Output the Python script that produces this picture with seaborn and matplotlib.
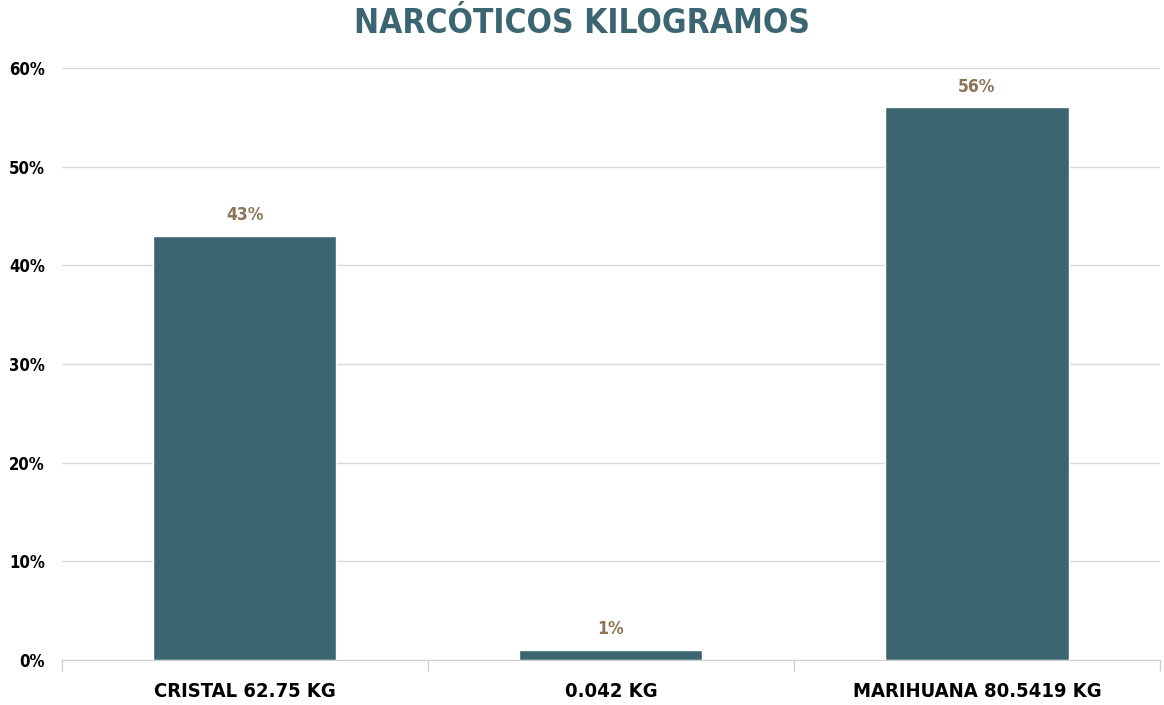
import matplotlib
matplotlib.use("Agg")
import matplotlib.pyplot as plt
import seaborn as sns
import pandas as pd
from matplotlib.ticker import FuncFormatter, FixedLocator

categories = ["CRISTAL 62.75 KG", "0.042 KG", "MARIHUANA 80.5419 KG"]
values = [0.43, 0.01, 0.56]
value_labels = ["43%", "1%", "56%"]
title = "NARCÓTICOS KILOGRAMOS"

sns.set_style("white")
plt.rcParams['font.family'] = ['DejaVu Sans']
plt.rcParams['font.stretch'] = 'condensed'

bar_color = "#3b6570"
label_color = "#8c7456"

df = pd.DataFrame({"cat": categories, "val": values})
fig = plt.figure(figsize=(11.64, 7.05), dpi=100)
ax = fig.add_axes([0.053, 0.0638, 0.9436, 0.8397])
sns.barplot(data=df, x="cat", y="val", color=bar_color, width=0.5, saturation=1, ax=ax)

ax.set_ylim(0, 0.6)
ax.set_xlim(-0.5, 2.5)
ax.set_yticks([0, 0.1, 0.2, 0.3, 0.4, 0.5, 0.6])
ax.yaxis.set_major_formatter(FuncFormatter(lambda v, p: f"{round(v*100)}%"))
ax.grid(axis="y", color="#d9d9d9", linewidth=1)
ax.set_axisbelow(True)
for s in ["top", "right", "left"]:
    ax.spines[s].set_visible(False)
ax.spines["bottom"].set_color("#d0d0d0")
ax.set_xlabel("")
ax.set_ylabel("")
ax.tick_params(axis="y", length=0, labelsize=12, pad=12, labelcolor="black")
ax.tick_params(axis="x", length=0, labelsize=14.5, pad=16, labelcolor="black")
for t in ax.get_yticklabels() + ax.get_xticklabels():
    t.set_fontweight("bold")
    t.set_fontstretch("condensed")
# minor ticks at category boundaries
ax.xaxis.set_minor_locator(FixedLocator([-0.5, 0.5, 1.5, 2.5]))
ax.tick_params(axis="x", which="minor", bottom=True, length=8, color="#d0d0d0", width=1)

for i, (v, lab) in enumerate(zip(values, value_labels)):
    ax.text(i, v + 0.012, lab, ha="center", va="bottom", fontsize=12.5,
            fontweight="bold", fontstretch="condensed", color=label_color)

fig.text(0.5, 0.966, title, ha="center", va="center", fontsize=24,
         fontweight="bold", fontstretch="condensed", color=bar_color)

fig.savefig("out.png", dpi=100)
